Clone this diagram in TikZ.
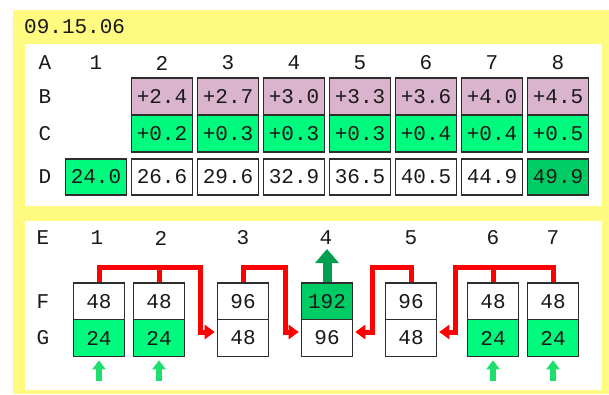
\documentclass[tikz,border=0pt]{standalone}
\usepackage{fontspec}
\setmonofont{Liberation Mono}
\usetikzlibrary{arrows.meta}
\definecolor{yel}{RGB}{255,250,128}
\definecolor{pinkc}{RGB}{218,180,205}
\definecolor{lgreen}{RGB}{0,250,125}
\definecolor{dgreen}{RGB}{0,204,102}
\definecolor{redc}{RGB}{255,0,0}
\definecolor{agreen}{RGB}{30,222,110}
\definecolor{adgreen}{RGB}{0,160,80}
\definecolor{bord}{RGB}{45,45,45}
\definecolor{txtc}{RGB}{25,25,25}
\begin{document}
\begin{tikzpicture}[x=1pt,y=-1pt,
  txt/.style={font=\ttfamily\fontsize{21}{21}\selectfont, text=txtc, inner sep=0pt},
  cell/.style={txt, draw=bord, line width=1.6pt, minimum width=61pt, minimum height=37pt, anchor=center},
  dcell/.style={cell, minimum height=36pt},
  bcell/.style={cell, minimum width=51pt},
  redl/.style={draw=redc, line width=5pt, line join=miter},
  redarr/.style={redl, -{Triangle[width=14pt,length=10pt]}, shorten >=2pt},
  garrow/.style={draw=agreen, line width=6pt, -{Triangle[width=13pt,length=9pt]}, shorten >=3pt},
  darrow/.style={draw=adgreen, line width=9pt, -{Triangle[width=23pt,length=14pt]}}
]
\useasboundingbox (0,0) rectangle (609,394);
\fill[white] (0,0) rectangle (609,394);
\fill[yel] (13,10) rectangle (609,394);
\fill[white] (25,44) rectangle (602,206);
\fill[white] (25,221) rectangle (602,390);

\node[txt, anchor=west] (title) at (24,27) {09.15.06};

% top panel labels
\foreach \r/\y in {A/63,B/97,C/134,D/177} \node[txt] (lab\r) at (45,\y) {\r};
\foreach \i/\x in {1/96,2/162,3/228,4/294,5/360,6/426,7/492,8/558}
  \node[txt] (h\i) at (\x,63) {\i};

% B row
\foreach \i/\x/\v in {2/162/+2.4,3/228/+2.7,4/294/+3.0,5/360/+3.3,6/426/+3.6,7/492/+4.0,8/558/+4.5}
  \node[cell, fill=pinkc] (b\i) at (\x,96.5) {\v};
% C row
\foreach \i/\x/\v in {2/162/+0.2,3/228/+0.3,4/294/+0.3,5/360/+0.3,6/426/+0.4,7/492/+0.4,8/558/+0.5}
  \node[cell, fill=lgreen] (c\i) at (\x,133.5) {\v};
% D row
\node[dcell, fill=lgreen] (d1) at (96,177) {24.0};
\foreach \i/\x/\v in {2/162/26.6,3/228/29.6,4/294/32.9,5/360/36.5,6/426/40.5,7/492/44.9}
  \node[dcell, fill=white] (d\i) at (\x,177) {\v};
\node[dcell, fill=dgreen] (d8) at (558,177) {49.9};

% bottom panel labels
\foreach \r/\y in {E/238,F/302,G/338} \node[txt] (lab\r) at (43,\y) {\r};
\foreach \i/\x in {1/97,2/161,3/243,4/326,5/411,6/493,7/553}
  \node[txt] (e\i) at (\x,238) {\i};

% F row
\node[bcell, fill=white] (f1) at (99,301.5) {48};
\node[bcell, fill=white] (f2) at (159,301.5) {48};
\node[bcell, fill=white] (f3) at (243,301.5) {96};
\node[bcell, fill=dgreen] (f4) at (327,301.5) {192};
\node[bcell, fill=white] (f5) at (411,301.5) {96};
\node[bcell, fill=white] (f6) at (493,301.5) {48};
\node[bcell, fill=white] (f7) at (553,301.5) {48};
% G row
\node[bcell, fill=lgreen] (g1) at (99,338) {24};
\node[bcell, fill=lgreen] (g2) at (159,338) {24};
\node[bcell, fill=white] (g3) at (243,338) {48};
\node[bcell, fill=white] (g4) at (327,338) {96};
\node[bcell, fill=white] (g5) at (411,338) {48};
\node[bcell, fill=lgreen] (g6) at (493,338) {24};
\node[bcell, fill=lgreen] (g7) at (553,338) {24};

% red connectors
\coordinate (j1) at (200,267);
\coordinate (j2) at (285,267);
\coordinate (j3) at (372,267);
\coordinate (j4) at (455,267);
\draw[redl] (f2.north) -- (f2.north |- j1);
\draw[redarr] (f1.north) |- (j1) |- ([yshift=6pt]g3.west);
\draw[redarr] (f3.north) |- (j2) |- ([yshift=6pt]g4.west);
\draw[redarr] (f5.north) |- (j3) |- ([yshift=6pt]g4.east);
\draw[redl] (f6.north) -- (f6.north |- j4);
\draw[redarr] (f7.north) |- (j4) |- ([yshift=6pt]g5.east);

% green arrows
\foreach \i/\x in {1/99,2/159,6/493,7/553} {
  \coordinate (a\i) at (\x,381);
  \draw[garrow] (a\i) -- (g\i.south);
}
\coordinate (a4) at (327,249);
\draw[darrow] (f4.north) -- (a4);
\end{tikzpicture}
\end{document}
